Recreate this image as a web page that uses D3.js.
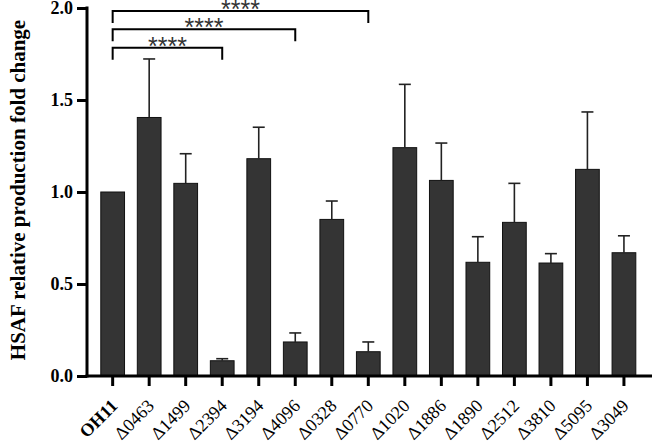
<!DOCTYPE html>
<html>
<head>
<meta charset="utf-8">
<script src="https://cdn.jsdelivr.net/npm/d3@7"></script>
<style>
  html, body { margin: 0; padding: 0; background: #fff; }
  svg { display: block; }
</style>
</head>
<body>
<div id="chart"></div>
<script>
var strains = ['OH11', '\u03940463', '\u03941499', '\u03942394', '\u03943194', '\u03944096', '\u03940328',
  '\u03940770', '\u03941020', '\u03941886', '\u03941890', '\u03942512', '\u03943810', '\u03945095', '\u03943049'];
var means = [1.0, 1.405, 1.047, 0.083, 1.181, 0.185, 0.851, 0.132, 1.241, 1.063, 0.618, 0.835, 0.614, 1.123, 0.670];
var errs = [0, 0.318, 0.161, 0.011, 0.171, 0.049, 0.100, 0.053, 0.344, 0.203, 0.139, 0.212, 0.051, 0.312, 0.092];
var yTicks = [0, 0.5, 1.0, 1.5, 2.0];
// comparisons against OH11, all p < 0.0001
var comparisons = [
  {from: 'OH11', to: '\u03942394', label: '****', level: 0},
  {from: 'OH11', to: '\u03944096', label: '****', level: 1},
  {from: 'OH11', to: '\u03940770', label: '****', level: 2}
];

var width = 652, height = 441;
var serif = '"Liberation Serif", "Times New Roman", serif';

var svg = d3.select('#chart').append('svg')
  .attr('width', width)
  .attr('height', height);

var x = d3.scaleBand()
  .domain(strains)
  .range([94.4, 642.2])
  .paddingInner(0.35)
  .paddingOuter(0.175);

var y = d3.scaleLinear()
  .domain([0, 2])
  .range([376, 8]);

// bars
svg.append('g').selectAll('rect')
  .data(strains)
  .enter()
  .append('rect')
  .attr('x', d => x(d))
  .attr('width', x.bandwidth())
  .attr('y', (d, i) => y(means[i]))
  .attr('height', (d, i) => y(0) - y(means[i]))
  .attr('fill', '#343434')
  .attr('stroke', '#111')
  .attr('stroke-width', 1);

// error bars (upper only)
var eb = svg.append('g')
  .attr('stroke', '#222')
  .attr('stroke-width', 1.6);
strains.forEach(function (s, i) {
  if (!errs[i]) return;
  var cx = x(s) + x.bandwidth() / 2;
  eb.append('line')
    .attr('x1', cx).attr('x2', cx)
    .attr('y1', y(means[i])).attr('y2', y(means[i] + errs[i]));
  eb.append('line')
    .attr('x1', cx - 6).attr('x2', cx + 6)
    .attr('y1', y(means[i] + errs[i])).attr('y2', y(means[i] + errs[i]));
});

// y axis
var yAxis = svg.append('g')
  .attr('transform', 'translate(87,0)')
  .call(d3.axisLeft(y).tickValues(yTicks).tickFormat(d3.format('.1f')).tickSize(10).tickSizeOuter(0));
yAxis.select('.domain').attr('stroke', '#000').attr('stroke-width', 3);
yAxis.selectAll('.tick line').attr('stroke', '#000').attr('stroke-width', 3);
yAxis.selectAll('.tick text')
  .attr('x', -14)
  .attr('font-family', serif)
  .attr('font-weight', 'bold')
  .attr('font-size', 18)
  .attr('fill', '#000');
yAxis.select('.domain').attr('d', 'M0,' + (y(0) + 1.5) + 'V' + (y(2) - 1.5));

// x axis
var xAxis = svg.append('g')
  .attr('transform', 'translate(0,' + y(0) + ')')
  .call(d3.axisBottom(x).tickSize(10).tickSizeOuter(0));
xAxis.select('.domain').attr('d', 'M85.5,0H652').attr('stroke', '#000').attr('stroke-width', 3);
xAxis.selectAll('.tick line').attr('stroke', '#000').attr('stroke-width', 3);
xAxis.selectAll('.tick text')
  .attr('font-family', serif)
  .attr('font-size', 18)
  .attr('font-weight', d => d === 'OH11' ? 'bold' : 'normal')
  .attr('fill', '#000')
  .attr('text-anchor', 'end')
  .attr('dy', null)
  .attr('y', 0)
  .attr('transform', 'translate(6,31) rotate(-45)');

// y axis title
svg.append('text')
  .attr('transform', 'translate(25,190) rotate(-90)')
  .attr('text-anchor', 'middle')
  .attr('font-family', serif)
  .attr('font-weight', 'bold')
  .attr('font-size', 21)
  .attr('fill', '#000')
  .text('HSAF relative production fold change');

// significance brackets
var lineY = [47.7, 29.3, 11];
var sig = svg.append('g');
comparisons.forEach(function (c) {
  var x1 = x(c.from) + x.bandwidth() / 2;
  var x2 = x(c.to) + x.bandwidth() / 2;
  var ly = lineY[c.level];
  sig.append('path')
    .attr('d', 'M' + x1 + ',' + (ly + 12) + 'V' + ly + 'H' + x2 + 'V' + (ly + 12))
    .attr('fill', 'none')
    .attr('stroke', '#000')
    .attr('stroke-width', 2);
  sig.append('text')
    .attr('x', (x1 + x2) / 2)
    .attr('y', ly + 7)
    .attr('text-anchor', 'middle')
    .attr('font-family', '"Liberation Sans", Arial, sans-serif')
    .attr('font-size', 25)
    .attr('fill', '#333')
    .text(c.label);
});
</script>
</body>
</html>
